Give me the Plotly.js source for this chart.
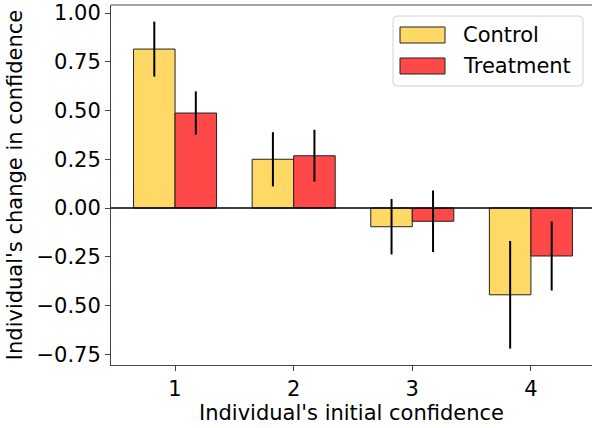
<!DOCTYPE html>
<html>
<head>
<meta charset="utf-8">
<script src="https://cdn.plot.ly/plotly-3.0.1.min.js"></script>
<style>html,body{margin:0;padding:0;background:#fff;}#chart{width:592px;height:428px;}</style>
</head>
<body>
<div id="chart"></div>
<script>
var categories = [1, 2, 3, 4];
var seriesNames = ["Control", "Treatment"];
var controlValues = [0.815, 0.25, -0.096, -0.445];
var controlErrors = [0.141, 0.139, 0.142, 0.276];
var treatmentValues = [0.487, 0.268, -0.068, -0.246];
var treatmentErrors = [0.111, 0.133, 0.158, 0.177];
var tickValues = [-0.75, -0.5, -0.25, 0, 0.25, 0.5, 0.75, 1.0];

var colors = ["#FFD966", "#FF4848"];
var font = {family: "DejaVu Sans, sans-serif", size: 21, color: "#000"};

function barTrace(name, vals, errs, color) {
  return {
    type: "bar", name: name, x: categories, y: vals,
    marker: {color: color, line: {color: "#222", width: 1}},
    error_y: {type: "data", array: errs, visible: true, color: "#000", thickness: 2, width: 0},
    showlegend: false
  };
}

var data = [
  barTrace(seriesNames[0], controlValues, controlErrors, colors[0]),
  barTrace(seriesNames[1], treatmentValues, treatmentErrors, colors[1])
];

// legend geometry in pixels -> paper
var L = 111, T = 5, W = 481, H = 360;
function px(x) { return (x - L) / W; }
function py(y) { return (T + H - y) / H; }
function roundRect(x0, y0, x1, y1, r) {
  var rx = r / W, ry = r / H;
  var a = px(x0), b = px(x1), c = py(y0), d = py(y1);
  return "M" + (a + rx) + "," + c + " L" + (b - rx) + "," + c +
    " Q" + b + "," + c + " " + b + "," + (c - ry) +
    " L" + b + "," + (d + ry) + " Q" + b + "," + d + " " + (b - rx) + "," + d +
    " L" + (a + rx) + "," + d + " Q" + a + "," + d + " " + a + "," + (d + ry) +
    " L" + a + "," + (c - ry) + " Q" + a + "," + c + " " + (a + rx) + "," + c + " Z";
}

var shapes = [
  {type: "line", xref: "paper", yref: "paper", x0: 0, x1: 1, y0: 1, y1: 1, line: {color: "#444", width: 1}},
  {type: "line", xref: "paper", yref: "y", x0: 0, x1: 1, y0: 0, y1: 0, line: {color: "#000", width: 1.5}},
  {type: "path", xref: "paper", yref: "paper", path: roundRect(393, 16, 583, 86, 4),
   fillcolor: "rgba(255,255,255,0.8)", line: {color: "#d0d0d0", width: 1}}
];
var annotations = [];
var rowY = [35, 66];
for (var i = 0; i < 2; i++) {
  shapes.push({type: "rect", xref: "paper", yref: "paper",
    x0: px(400), x1: px(445), y0: py(rowY[i] - 8), y1: py(rowY[i] + 8),
    fillcolor: colors[i], line: {color: "#222", width: 1}});
  annotations.push({xref: "paper", yref: "paper", x: px(461), y: py(rowY[i]),
    xanchor: "left", yanchor: "middle", text: seriesNames[i], showarrow: false, font: font});
}

var layout = {
  width: 592, height: 428,
  margin: {l: 111, r: 0, t: 5, b: 63, pad: 0},
  paper_bgcolor: "#fff", plot_bgcolor: "#fff",
  font: font,
  barmode: "group", bargap: 0.3, bargroupgap: 0,
  xaxis: {
    range: [0.46, 4.515], tickvals: categories, ticktext: categories.map(String),
    showgrid: false, zeroline: false, showline: true, linecolor: "#444", linewidth: 1,
    ticks: "outside", ticklen: 5, tickcolor: "#444", tickfont: font,
    title: {text: "Individual's initial confidence", font: font, standoff: 4}
  },
  yaxis: {
    range: [-0.805, 1.041], tickvals: tickValues, tickformat: ".2f",
    showgrid: false, zeroline: false, showline: true, linecolor: "#444", linewidth: 1,
    ticks: "outside", ticklen: 5, tickcolor: "#444", tickfont: font,
    title: {text: "Individual's change in confidence", font: font, standoff: 8}
  },
  shapes: shapes,
  annotations: annotations
};

Plotly.newPlot("chart", data, layout, {displayModeBar: false, staticPlot: true});
</script>
</body>
</html>
